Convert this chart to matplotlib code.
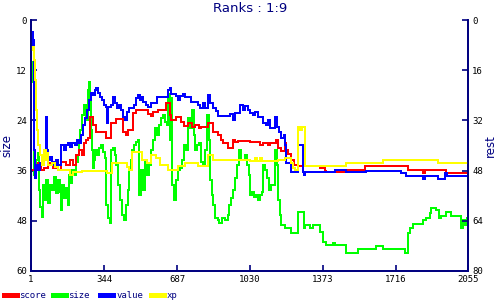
import matplotlib
matplotlib.use("Agg")
import matplotlib.pyplot as plt
from matplotlib.lines import Line2D

plt.rcParams['font.family'] = ['DejaVu Sans Mono']

NAVY = '#000080'

# ---- data ----
x_ticks = [1, 344, 687, 1030, 1373, 1716, 2055]
size_ticks = [0, 12, 24, 36, 48, 60]
rest_ticks = [0, 16, 32, 48, 64, 80]

size_x = [1, 6, 15, 25, 34, 39, 43, 53, 57, 67, 72, 81, 90, 100, 109, 118, 128, 137, 142, 147,
          156, 165, 175, 180, 189, 194, 203, 213, 222, 227, 231, 241, 250, 260, 269, 274, 278, 283,
          288, 292, 297, 302, 311, 321, 330, 339, 349, 354, 363, 372, 377, 386, 396, 400, 410, 419,
          429, 438, 447, 457, 462, 471, 476, 485, 494, 504, 508, 518, 527, 537, 546, 556, 565, 574,
          584, 593, 603, 612, 622, 631, 640, 645, 654, 659, 664, 673, 683, 692, 701, 711, 720, 730,
          739, 748, 758, 767, 772, 781, 791, 800, 810, 819, 828, 838, 842, 852, 857, 866, 880, 885,
          899, 913, 927, 932, 941, 951, 960, 969, 979, 988, 997, 1007, 1016, 1026, 1030, 1040, 1049,
          1059, 1068, 1077, 1087, 1091, 1101, 1110, 1120, 1129, 1139, 1148, 1157, 1162, 1171, 1176,
          1195, 1223, 1256, 1284, 1289, 1312, 1326, 1359, 1373, 1387, 1420, 1430, 1481, 1538, 1622,
          1655, 1759, 1773, 1782, 1796, 1843, 1857, 1876, 1881, 1904, 1918, 1928, 1951, 1975, 2022,
          2031, 2041, 2050, 2055]
size_v = [10.0, 14.8, 37.0, 33.5, 31.8, 40.6, 44.7, 47.1, 39.4, 43.0, 38.2, 43.7, 39.4, 40.6, 37.5,
          41.3, 38.2, 41.1, 45.4, 39.4, 42.5, 40.2, 44.2, 37.0, 39.0, 35.9, 37.0, 33.9, 32.3, 28.7,
          26.3, 22.7, 20.3, 23.9, 16.7, 14.8, 19.1, 26.3, 31.1, 35.4, 33.5, 31.1, 32.3, 30.6, 29.9,
          31.5, 33.0, 44.2, 47.3, 48.5, 31.1, 30.6, 32.3, 34.7, 39.4, 43.0, 46.6, 47.8, 44.2, 40.6,
          35.9, 33.5, 31.1, 29.9, 29.2, 28.7, 41.8, 35.9, 40.6, 33.5, 37.0, 34.7, 31.1, 28.7, 25.8,
          27.5, 25.1, 23.4, 22.7, 24.4, 25.1, 17.7, 28.7, 18.6, 39.4, 43.0, 38.2, 35.9, 35.4, 33.5,
          29.9, 31.1, 23.4, 25.8, 21.5, 27.5, 31.1, 29.9, 29.4, 33.9, 34.7, 31.1, 22.7, 28.7, 38.2,
          41.8, 44.2, 47.3, 47.8, 48.5, 47.3, 47.8, 46.6, 44.2, 42.5, 40.6, 37.8, 34.7, 31.1, 33.5,
          33.5, 32.3, 34.7, 37.0, 41.8, 41.1, 42.3, 41.8, 43.0, 41.8, 41.1, 34.7, 35.9, 37.8, 40.6,
          39.4, 39.4, 31.1, 34.7, 43.0, 46.6, 49.0, 49.7, 50.9, 45.9, 49.7, 49.0, 49.7, 49.0, 50.7,
          53.1, 53.8, 53.3, 53.8, 55.7, 54.7, 54.0, 54.7, 55.7, 50.9, 49.7, 48.8, 47.8, 47.3, 46.1,
          44.9, 45.4, 47.3, 46.8, 45.9, 46.8, 49.7, 47.8, 49.0, 47.3, 47.3]

value_x = [1, 6, 10, 15, 20, 25, 34, 43, 53, 62, 72, 76, 81, 90, 100, 109, 118, 128, 142, 156, 165,
           175, 184, 194, 208, 217, 227, 236, 245, 255, 264, 274, 283, 292, 302, 307, 316, 325, 335,
           344, 354, 358, 363, 377, 386, 396, 405, 415, 424, 433, 443, 452, 462, 476, 485, 494, 504,
           513, 523, 527, 541, 551, 565, 593, 631, 645, 654, 659, 683, 692, 701, 715, 725, 753, 772,
           786, 795, 809, 819, 833, 842, 856, 870, 880, 927, 936, 950, 960, 983, 997, 1007, 1021,
           1030, 1044, 1054, 1068, 1091, 1106, 1115, 1124, 1148, 1157, 1167, 1176, 1190, 1195, 1199,
           1223, 1256, 1279, 1284, 1289, 1430, 1481, 1575, 1740, 1763, 1843, 1852, 1914, 1947, 1956,
           2055]
value_v = [8.0, 3.8, 6.4, 41.4, 50.4, 46.2, 47.8, 45.6, 46.2, 44.0, 30.9, 41.4, 44.6, 43.7, 45.3,
           46.2, 44.6, 46.2, 39.8, 41.4, 39.8, 39.2, 40.5, 39.2, 39.8, 38.2, 39.2, 36.7, 33.5, 31.2,
           28.7, 25.5, 23.3, 23.9, 22.3, 21.7, 23.3, 24.5, 25.5, 27.1, 27.7, 32.8, 27.7, 27.1, 24.5,
           26.5, 28.0, 27.1, 28.7, 30.9, 31.9, 29.3, 28.0, 28.0, 27.1, 24.9, 23.9, 25.5, 24.5, 26.1,
           27.1, 27.7, 26.5, 24.5, 24.5, 22.3, 21.7, 23.6, 24.2, 25.5, 24.2, 23.6, 24.5, 26.1, 26.1,
           27.1, 28.0, 26.5, 28.0, 23.9, 26.5, 28.0, 29.0, 30.6, 30.6, 30.0, 31.9, 29.6, 27.1, 28.7,
           27.4, 28.7, 29.6, 30.3, 29.3, 30.9, 32.8, 33.5, 31.9, 34.4, 30.9, 34.1, 35.7, 37.6, 36.7,
           39.8, 45.6, 48.4, 39.8, 48.4, 49.4, 48.4, 47.8, 48.4, 48.1, 48.8, 49.7, 50.7, 49.7, 50.7,
           48.8, 49.7, 49.7]

score_x = [1, 34, 48, 62, 81, 104, 118, 128, 142, 165, 184, 198, 213, 227, 241, 250, 260, 269, 278,
           292, 307, 330, 354, 377, 400, 433, 447, 457, 480, 494, 518, 551, 565, 574, 598, 635, 654,
           659, 683, 706, 720, 739, 758, 772, 791, 800, 833, 856, 880, 894, 903, 927, 950, 960, 974,
           1030, 1077, 1091, 1115, 1124, 1152, 1162, 1176, 1195, 1199, 1209, 1223, 1237, 1256, 1359,
           1383, 1387, 1477, 1571, 1773, 1843, 1852, 1951, 2055]
score_v = [47.8, 45.6, 47.8, 47.2, 45.6, 47.2, 45.6, 47.8, 45.3, 46.2, 44.6, 46.2, 43.0, 41.4, 43.0,
           39.2, 38.2, 37.6, 30.9, 33.5, 35.7, 35.7, 37.6, 32.8, 31.6, 35.7, 36.7, 35.1, 29.6, 28.7,
           28.7, 29.9, 30.6, 29.3, 28.7, 26.5, 30.3, 31.9, 30.9, 32.5, 33.8, 32.8, 34.1, 33.5, 34.4,
           34.1, 32.8, 35.7, 36.7, 38.2, 39.2, 40.8, 38.2, 38.9, 38.6, 38.9, 39.8, 39.2, 39.8, 39.2,
           38.2, 40.8, 41.8, 39.2, 41.4, 42.7, 44.6, 46.2, 46.5, 47.2, 48.1, 48.4, 47.8, 46.5, 47.8,
           48.8, 47.8, 48.8, 48.8]

xp_x = [1, 6, 15, 20, 25, 29, 34, 43, 53, 62, 72, 76, 81, 100, 114, 128, 184, 198, 241, 358, 382,
        452, 462, 476, 523, 546, 565, 588, 607, 645, 692, 725, 786, 833, 856, 1030, 1054, 1063, 1077,
        1087, 1162, 1195, 1223, 1232, 1242, 1256, 1265, 1275, 1289, 1481, 1655, 1914, 2055]
xp_v = [9.6, 8.6, 12.7, 19.1, 28.7, 35.1, 39.8, 43.0, 46.2, 41.4, 44.6, 42.4, 46.2, 45.6, 46.8,
        47.8, 49.4, 48.4, 48.1, 48.8, 45.6, 46.8, 47.8, 42.1, 44.6, 45.6, 43.0, 44.0, 46.2, 47.8,
        46.5, 45.6, 46.5, 43.0, 44.6, 44.9, 44.0, 44.9, 44.0, 44.9, 44.6, 44.0, 45.6, 47.2, 47.8,
        34.1, 35.1, 34.1, 46.5, 45.6, 44.6, 45.6, 45.6]

series_names = ['score', 'size', 'value', 'xp']
series_colors = ['#ff0000', '#00ff00', '#0000ff', '#ffff00']

# ---- figure ----
fig = plt.figure(figsize=(5, 3), dpi=100)
ax = fig.add_axes([31 / 500, 1 - 271 / 300, 437 / 500, 251 / 300])
ax2 = ax.twinx()

lw = 1.3
ax.plot(size_x, size_v, drawstyle='steps-post', color=series_colors[1], lw=lw, antialiased=False)
ax2.plot(score_x, score_v, drawstyle='steps-post', color=series_colors[0], lw=lw, antialiased=False)
ax2.plot(value_x, value_v, drawstyle='steps-post', color=series_colors[2], lw=lw, antialiased=False)
ax2.plot(xp_x, xp_v, drawstyle='steps-post', color=series_colors[3], lw=lw, antialiased=False)

ax.set_xlim(x_ticks[0], x_ticks[-1])
ax.set_ylim(size_ticks[-1], size_ticks[0])
ax2.set_ylim(rest_ticks[-1], rest_ticks[0])
ax.set_xticks(x_ticks)
ax.set_yticks(size_ticks)
ax2.set_yticks(rest_ticks)

for a in (ax, ax2):
    a.spines['top'].set_visible(False)
    for s in ('left', 'right', 'bottom'):
        a.spines[s].set_color(NAVY)
        a.spines[s].set_linewidth(1.3)
    a.tick_params(direction='in', length=4, width=1.2, color=NAVY, labelsize=6.5,
                  labelcolor='black', pad=3)

ax.set_ylabel('size', color=NAVY, fontsize=8.5, family='DejaVu Sans')
ax.yaxis.set_label_coords(-0.04, 0.5)
ax2.set_ylabel('rest', color=NAVY, fontsize=8.5, family='DejaVu Sans', rotation=90)
ax2.yaxis.set_label_coords(1.036, 0.5)

fig.text(0.5, 1 - 8 / 300, 'Ranks : 1:9', ha='center', va='center', color=NAVY,
         fontsize=9.5, family='DejaVu Sans')

# legend
leg_y = 1 - 295 / 300
seg = [(4, 17, 19), (53, 66, 68), (100, 113, 117), (151, 164, 167)]
for (x0, x1, xt), name, col in zip(seg, series_names, series_colors):
    fig.add_artist(Line2D([x0 / 500, x1 / 500], [leg_y, leg_y], transform=fig.transFigure,
                          color=col, lw=2.2, antialiased=False))
    fig.text(xt / 500, leg_y, name, ha='left', va='center', color=NAVY, fontsize=6.5)

fig.savefig('out.png', dpi=100, facecolor='white')
